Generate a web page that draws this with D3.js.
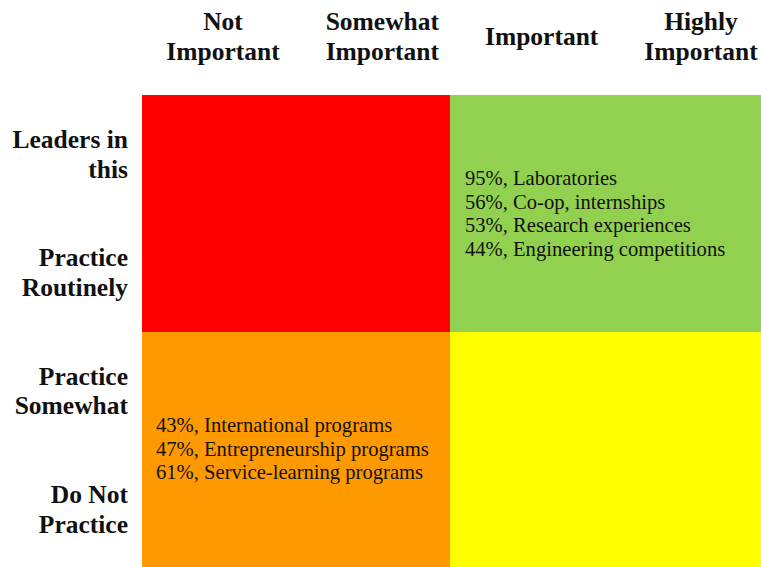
<!DOCTYPE html>
<meta charset="utf-8">
<style>
body { margin: 0; background: #fff; }
.head text { font: bold 25.5px "Liberation Serif", "Times New Roman", serif; fill: #111; }
.item text { font: 20.6px "Liberation Serif", "Times New Roman", serif; fill: #111; }
</style>
<svg width="761" height="567"></svg>
<script src="https://d3js.org/d3.v7.min.js"></script>
<script>

var svg = d3.select("svg"),
    width = +svg.attr("width"),
    height = +svg.attr("height");

// column headers (importance) and row headers (practice)
var importance = [["Not", "Important"], ["Somewhat", "Important"], ["Important"], ["Highly", "Important"]];
var practice = [["Leaders in", "this"], ["Practice", "Routinely"], ["Practice", "Somewhat"], ["Do Not", "Practice"]];

// quadrants: col 0 = less important, 1 = more important; row 0 = routinely, 1 = not
var quadrants = [
  {col: 0, row: 0, color: "#ff0000"},
  {col: 1, row: 0, color: "#92d050"},
  {col: 0, row: 1, color: "#ff9900"},
  {col: 1, row: 1, color: "#ffff00"}
];

var greenItems = ["95%, Laboratories", "56%, Co-op, internships", "53%, Research experiences", "44%, Engineering competitions"];
var orangeItems = ["43%, International programs", "47%, Entrepreneurship programs", "61%, Service-learning programs"];

var x = d3.scaleLinear().domain([0, 1, 2]).range([142, 450, width]);
var y = d3.scaleLinear().domain([0, 1, 2]).range([95, 332, height]);

var headX = d3.scalePoint().domain(d3.range(importance.length)).range([223, 701]);
var rowY = d3.scalePoint().domain(d3.range(practice.length)).range([148, 503]);
var lineH = 29.5;

svg.append("g").selectAll("rect")
    .data(quadrants)
  .enter().append("rect")
    .attr("x", function(d) { return x(d.col); })
    .attr("y", function(d) { return y(d.row); })
    .attr("width", function(d) { return x(d.col + 1) - x(d.col); })
    .attr("height", function(d) { return y(d.row + 1) - y(d.row); })
    .attr("fill", function(d) { return d.color; });

// column headers
var ch = svg.append("g").attr("class", "head").selectAll("text")
    .data(importance)
  .enter().append("text")
    .attr("text-anchor", "middle")
    .attr("x", function(d, i) { return headX(i); })
    .attr("y", function(d) { return d.length == 1 ? 45 : 30; });
ch.selectAll("tspan")
    .data(function(d, i) { return d.map(function(t) { return {t: t, i: i}; }); })
  .enter().append("tspan")
    .attr("x", function(d) { return headX(d.i); })
    .attr("dy", function(d, j) { return j ? lineH : 0; })
    .text(function(d) { return d.t; });

// row headers
var rh = svg.append("g").attr("class", "head").selectAll("text")
    .data(practice)
  .enter().append("text")
    .attr("text-anchor", "end")
    .attr("y", function(d, i) { return rowY(i); });
rh.selectAll("tspan")
    .data(function(d) { return d; })
  .enter().append("tspan")
    .attr("x", 128)
    .attr("dy", function(d, j) { return j ? lineH : 0; })
    .text(function(d) { return d; });

// items inside quadrants
var itemH = 23.5;
var g1 = svg.append("g").attr("class", "item");
g1.selectAll("text")
    .data(greenItems)
  .enter().append("text")
    .attr("x", x(1) + 15)
    .attr("y", function(d, i) { return 185 + i * itemH; })
    .text(function(d) { return d; });

var g2 = svg.append("g").attr("class", "item");
g2.selectAll("text")
    .data(orangeItems)
  .enter().append("text")
    .attr("x", x(0) + 14)
    .attr("y", function(d, i) { return 432 + i * itemH; })
    .text(function(d) { return d; });

</script>
